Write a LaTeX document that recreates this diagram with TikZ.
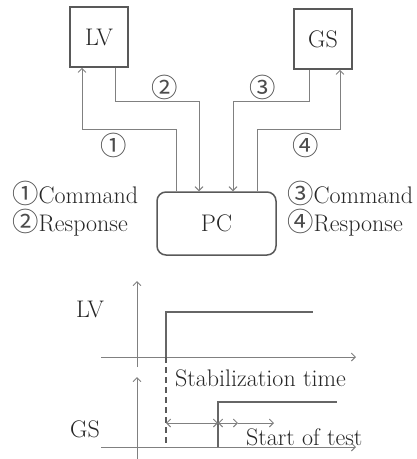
\documentclass[tikz,border=0pt]{standalone}
\usepackage{fontspec}
\newfontfamily\circfont[Scale=1.1]{Noto Sans CJK JP}
\usetikzlibrary{calc,positioning,arrows.meta}
\newcommand{\cnum}[1]{{\circfont\color{black!70}#1}}
\tikzset{
	lbl/.style={font=\fontsize{24}{28}\selectfont, text=black!85, inner sep=0pt},
	unit/.style={lbl, draw=black!65, line width=1.5pt, minimum width=58pt, minimum height=60pt},
	link/.style={draw=black!50, line width=0.9pt},
	wave/.style={draw=black!60, line width=1.5pt},
}

\begin{document}
\begin{tikzpicture}[x=1pt,y=-1pt,>={Straight Barb[length=4pt,width=8pt]}]
	\useasboundingbox (0,0) rectangle (417,459);
	\node[unit] (lv) at (99,37) {LV};
	\node[unit] (gs) at (323,39) {GS};
	\node[unit,rounded corners=9pt,minimum width=119pt,minimum height=63pt] (pc) at (216.5,223.5) {PC};
	\draw[link,<-] ([xshift=-17pt]lv.south) |- ([xshift=-40.5pt,yshift=62pt]pc.north) -- ([xshift=-40.5pt]pc.north);
	\draw[link,->] ([xshift=16pt]lv.south) |- ([xshift=-17.5pt,yshift=90pt]pc.north) -- ([xshift=-17.5pt]pc.north);
	\draw[link,->] ([xshift=-14pt]gs.south) |- ([xshift=16.5pt,yshift=90pt]pc.north) -- ([xshift=16.5pt]pc.north);
	\draw[link,<-] ([xshift=17pt]gs.south) |- ([xshift=40.5pt,yshift=62pt]pc.north) -- ([xshift=40.5pt]pc.north);
	\node[lbl] (n1) at (114,145) {\cnum{①}};
	\node[lbl] (n2) at (165,87) {\cnum{②}};
	\node[lbl] (n3) at (263,87) {\cnum{③}};
	\node[lbl] (n4) at (306,145) {\cnum{④}};
	\node[lbl,anchor=west] (cmd1) at (12,193) {\cnum{①}Command};
	\node[lbl,anchor=west] (res2) at (12,223) {\cnum{②}Response};
	\node[lbl,anchor=west] (cmd3) at (287,193) {\cnum{③}Command};
	\node[lbl,anchor=west] (res4) at (287,223) {\cnum{④}Response};
	\node[lbl,anchor=base] (lvt) at (90,317) {LV};
	\node[lbl,anchor=base] (gst) at (85,437) {GS};
	\node[lbl,anchor=base west] (stab) at (175,386) {Stabilization time};
	\node[lbl,anchor=base west] (start) at (246,445) {Start of test};
	\draw[link,->] (101,357) -- (356,357);
	\draw[link,->] (137,367) -- (137,281);
	\draw[link,->] (101,447) -- (356,447);
	\draw[link,->] (137,459) -- (137,377);
	\draw[wave] (166,357) |- (313,312);
	\draw[wave] (218,447) |- (337,402);
	\draw[link,draw=black!65,line width=1.2pt,dash pattern=on 6pt off 4pt] (166,357) -- (166,447);
	\draw[link,<->] (166,423) -- (218,423);
	\draw[link,<->] (218,423) -- (238,423);
	\draw[link,->] (238,423) -- (274,423);
\end{tikzpicture}
\end{document}
